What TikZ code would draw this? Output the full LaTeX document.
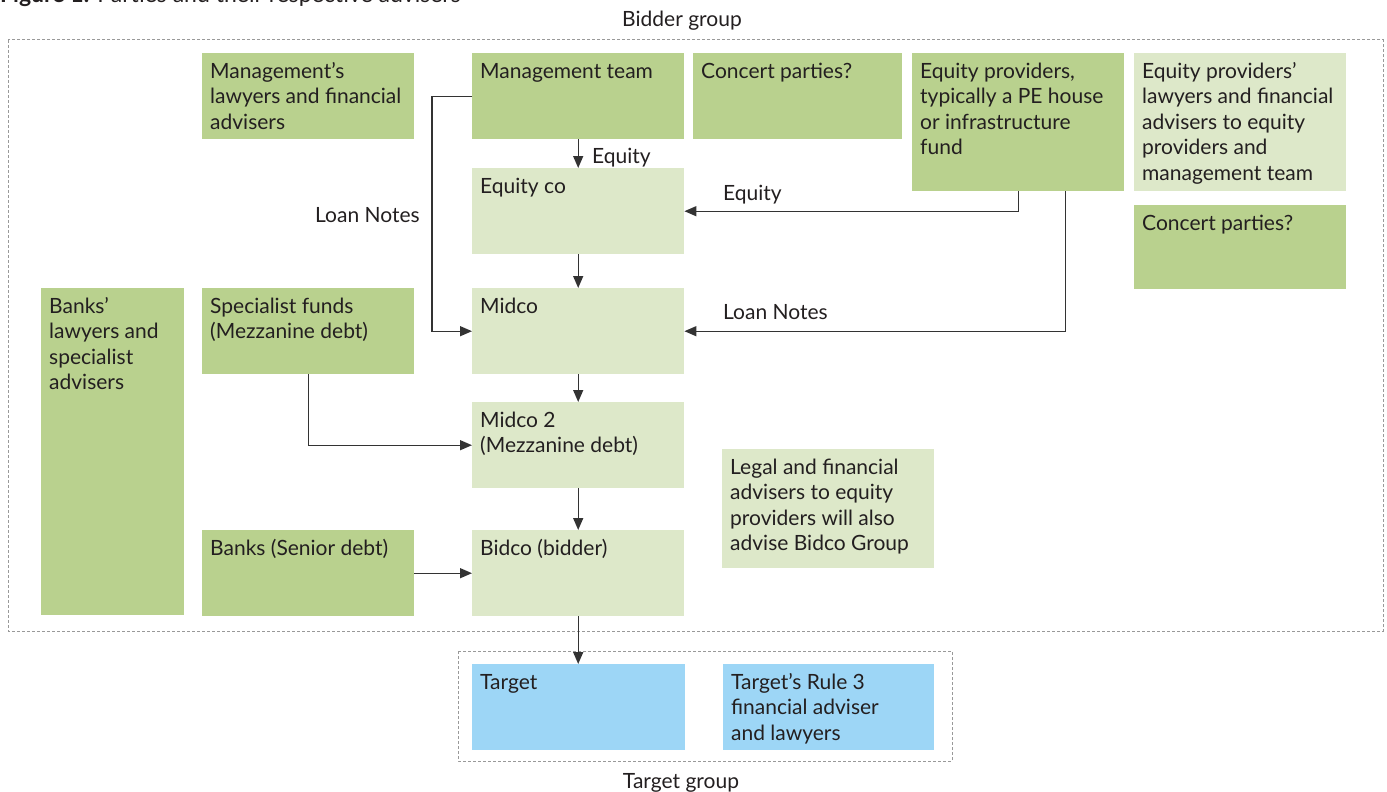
\documentclass[tikz,border=0pt]{standalone}
\usepackage{fontspec}
\setmainfont{Lato}
\usetikzlibrary{arrows.meta}
\definecolor{darkg}{HTML}{B9D18E}
\definecolor{lightg}{HTML}{DDE8C9}
\definecolor{tblue}{HTML}{9DD6F6}
\definecolor{ink}{HTML}{231F20}
\definecolor{wire}{HTML}{333333}
\definecolor{dashc}{HTML}{999999}

% text block of a box: width and height of the inner area, text top-aligned
\newcommand\cellbox[3]{\parbox[t][#2pt][t]{#1pt}{\raggedright\strut #3}}

\begin{document}
\begin{tikzpicture}[x=1pt,y=-1pt,
  font=\fontsize{21}{25.5}\selectfont, text=ink,
  bx/.style={anchor=north west, inner xsep=8pt, inner ysep=7pt},
  dk/.style={bx, fill=darkg},
  lt/.style={bx, fill=lightg},
  bl/.style={bx, fill=tblue},
  flow/.style={draw=wire, line width=1.4pt, -{Triangle[length=12pt,width=10pt]}},
  grp/.style={draw=dashc, line width=1pt, dash pattern=on 3pt off 2pt},
  tag/.style={inner sep=0pt, anchor=base west},
  grplbl/.style={inner sep=0pt, anchor=base}]

\useasboundingbox (0,0) rectangle (1387,792);

% heading
\node[tag, font=\fontsize{23}{27}\selectfont] (title) at (0,3) {\textbf{Figure 1:} Parties and their respective advisers};

% group frames
\draw[grp] (8,40) rectangle (1383,631);
\node[grplbl] (bgrp) at (682,27) {Bidder group};
\draw[grp] (458,651) rectangle (952,761);
\node[grplbl] (tgrp) at (681,788) {Target group};

% bidder side parties
\node[dk] (mlaw)   at (202,53)  {\cellbox{196}{72}{Management’s\\lawyers and financial\\advisers}};
\node[dk] (mteam)  at (472,53)  {\cellbox{196}{72}{Management team}};
\node[dk] (conc1)  at (693,53)  {\cellbox{193}{72}{Concert parties?}};
\node[dk] (eqprov) at (912,53)  {\cellbox{196}{124}{Equity providers,\\typically a PE house\\or infrastructure\\fund}};
\node[lt] (eqlaw)  at (1134,53) {\cellbox{196}{124}{Equity providers’\\lawyers and financial\\advisers to equity\\providers and\\management team}};
\node[dk] (conc2)  at (1134,205){\cellbox{196}{70}{Concert parties?}};

\node[lt] (eqco)   at (472,168) {\cellbox{196}{72}{Equity co}};
\node[lt] (midco)  at (472,288) {\cellbox{196}{72}{Midco}};
\node[lt] (midco2) at (472,402) {\cellbox{196}{72}{Midco 2\\(Mezzanine debt)}};
\node[lt] (bidco)  at (472,530) {\cellbox{196}{72}{Bidco (bidder)}};

\node[dk] (blaw)   at (41,288)  {\cellbox{127}{313}{Banks’\\lawyers and\\specialist\\advisers}};
\node[dk] (spec)   at (202,288) {\cellbox{196}{72}{Specialist funds\\(Mezzanine debt)}};
\node[dk] (banks)  at (202,530) {\cellbox{196}{72}{Banks (Senior debt)}};

\node[lt] (legal)  at (722,449) {\cellbox{196}{105}{Legal and financial\\advisers to equity\\providers will also\\advise Bidco Group}};

% target side
\node[bl] (target) at (472,664) {\cellbox{197}{72}{Target}};
\node[bl] (trule)  at (723,664) {\cellbox{195}{72}{Target’s Rule 3\\financial adviser\\and lawyers}};

% flows down the chain
\draw[flow] (mteam.south) -- (eqco.north);
\node[tag] (eqlbl1) at (592,163) {Equity};
\draw[flow] (eqco.south) -- (midco.north);
\draw[flow] (midco.south) -- (midco2.north);
\draw[flow] (midco2.south) -- (bidco.north);
\draw[flow] (bidco.south) -- (bidco.south |- target.north);

% loan notes from management
\draw[flow] (mteam.west) -- ++(-40,0) |- (midco.west);
\node[tag] (lnlbl1) at (315,222) {Loan Notes};

% equity providers
\draw[flow] (eqprov.south) |- (eqco.east);
\node[tag] (eqlbl2) at (723,200) {Equity};
\draw[flow] ([xshift=47pt]eqprov.south) |- (midco.east);
\node[tag] (lnlbl2) at (723,319) {Loan Notes};

% debt providers
\draw[flow] (spec.south) |- (midco2.west);
\draw[flow] (banks.east) -- (bidco.west);
\end{tikzpicture}
\end{document}
